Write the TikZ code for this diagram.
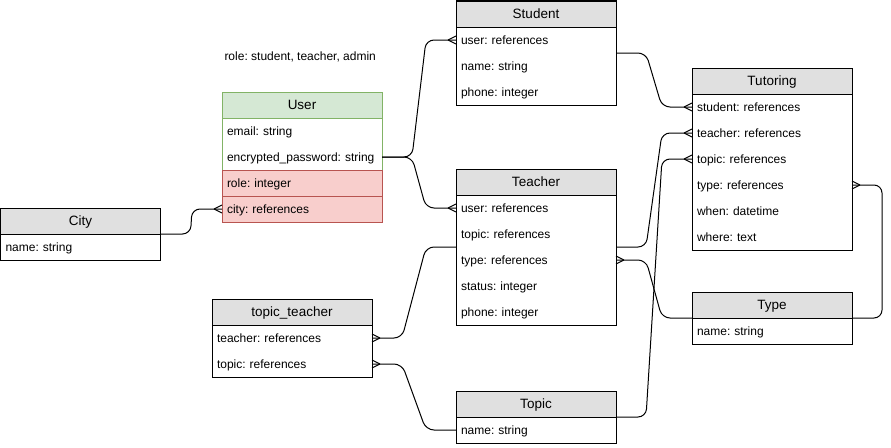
\documentclass[tikz,border=0pt]{standalone}
\usepackage{fontspec}
\setmainfont{Liberation Sans}
\usepackage{tikz}
\usetikzlibrary{positioning, calc, fit}
\frenchspacing
\definecolor{headgray}{HTML}{E0E0E0}
\definecolor{usergreen}{HTML}{D5E8D4}
\definecolor{userline}{HTML}{82B366}
\definecolor{keyred}{HTML}{F8CECC}
\definecolor{keyline}{HTML}{B85450}
\tikzstyle{head} = [draw, rectangle, fill=headgray, minimum width=160pt, minimum height=26pt, text height=10.5pt, text depth=1pt, outer sep=0pt, font=\fontsize{13.5}{16}\selectfont]
\tikzstyle{row} = [rectangle, text width=150pt, inner xsep=5pt, inner ysep=0pt, minimum height=26pt, text height=9.5pt, text depth=1pt, align=left, outer sep=0pt, font=\fontsize{12}{14}\selectfont]
\tikzstyle{body} = [draw, rectangle, inner sep=0pt, outer sep=0pt]
\tikzstyle{keyrow} = [row, draw=keyline, fill=keyred]
\tikzstyle{rel} = [draw, rounded corners=8pt]
\tikzstyle{note} = [inner sep=0pt, anchor=west, font=\fontsize{12}{14}\selectfont]
\tikzset{crow/.pic={\draw[sharp corners] (-8,0) -- (0,4) (-8,0) -- (0,-4);}}

\begin{document}
\begin{tikzpicture}[x=1pt, y=-1pt, line width=1pt]
    \useasboundingbox (0,0) rectangle (891,447);

    % User
    \node (roles) [note] at (224,57) {role: student, teacher, admin};
    \node (user-title) [head, fill=usergreen, draw=userline] at (302,105) {User};
    \node (user-email) [row, below=0pt of user-title] {email: string};
    \node (user-pw) [row, below=0pt of user-email] {encrypted\_password: string};
    \node (user) [body, draw=userline, fit=(user-title)(user-pw)] {};
    \node (user-role) [keyrow, below=0pt of user-pw] {role: integer};
    \node (user-city) [keyrow, below=0pt of user-role] {city: references};

    % City
    \node (city-title) [head] at (80.5,221) {City};
    \node (city-name) [row, below=0pt of city-title] {name: string};
    \node (city) [body, fit=(city-title)(city-name)] {};

    % Student
    \node (student-title) [head] at (536,14) {Student};
    \node (student-user) [row, below=0pt of student-title] {user: references};
    \node (student-name) [row, below=0pt of student-user] {name: string};
    \node (student-phone) [row, below=0pt of student-name] {phone: integer};
    \node (student) [body, fit=(student-title)(student-phone)] {};

    % Teacher
    \node (teacher-title) [head] at (536,182) {Teacher};
    \node (teacher-user) [row, below=0pt of teacher-title] {user: references};
    \node (teacher-topic) [row, below=0pt of teacher-user] {topic: references};
    \node (teacher-type) [row, below=0pt of teacher-topic] {type: references};
    \node (teacher-status) [row, below=0pt of teacher-type] {status: integer};
    \node (teacher-phone) [row, below=0pt of teacher-status] {phone: integer};
    \node (teacher) [body, fit=(teacher-title)(teacher-phone)] {};

    % Tutoring
    \node (tutoring-title) [head] at (772,81) {Tutoring};
    \node (tutoring-student) [row, below=0pt of tutoring-title] {student: references};
    \node (tutoring-teacher) [row, below=0pt of tutoring-student] {teacher: references};
    \node (tutoring-topic) [row, below=0pt of tutoring-teacher] {topic: references};
    \node (tutoring-type) [row, below=0pt of tutoring-topic] {type: references};
    \node (tutoring-when) [row, below=0pt of tutoring-type] {when: datetime};
    \node (tutoring-where) [row, below=0pt of tutoring-when] {where: text};
    \node (tutoring) [body, fit=(tutoring-title)(tutoring-where)] {};

    % Type
    \node (type-title) [head] at (772,305) {Type};
    \node (type-name) [row, below=0pt of type-title] {name: string};
    \node (type) [body, fit=(type-title)(type-name)] {};

    % topic_teacher
    \node (tt-title) [head] at (292,312) {topic\_teacher};
    \node (tt-teacher) [row, below=0pt of tt-title] {teacher: references};
    \node (tt-topic) [row, below=0pt of tt-teacher] {topic: references};
    \node (tt) [body, fit=(tt-title)(tt-topic)] {};

    % Topic
    \node (topic-title) [head] at (536,404) {Topic};
    \node (topic-name) [row, below=0pt of topic-title] {name: string};
    \node (topic) [body, fit=(topic-title)(topic-name)] {};

    % Relations
    \draw [rel] (user-pw.east) -- ++(30,0) -- ($(student-user.west)+(-30,0)$) -- (student-user.west) pic {crow};
    \draw [rel] (user-pw.east) -- ++(30,0) -- ($(teacher-user.west)+(-30,0)$) -- (teacher-user.west) pic {crow};
    \draw [rel] (city.east) -- ++(30,0) -- ($(user-city.west)+(-30,0)$) -- (user-city.west) pic {crow};
    \draw [rel] (student.east) -- ++(30,0) -- ($(tutoring-student.west)+(-30,0)$) -- (tutoring-student.west) pic {crow};
    \draw [rel] (teacher.east) -- ++(30,0) -- ($(tutoring-teacher.west)+(-30,0)$) -- (tutoring-teacher.west) pic {crow};
    \draw [rel] (topic.east) -- ++(30,0) -- ($(tutoring-topic.west)+(-30,0)$) -- (tutoring-topic.west) pic {crow};
    \draw [rel] (type.east) -- ++(30,0) -- ($(tutoring-type.east)+(30,0)$) -- (tutoring-type.east) pic[xscale=-1] {crow};
    \draw [rel] (type.west) -- ++(-30,0) -- ($(teacher-type.east)+(30,0)$) -- (teacher-type.east) pic[xscale=-1] {crow};
    \draw [rel] (teacher.west) -- ++(-30,0) -- ($(tt-teacher.east)+(30,0)$) -- (tt-teacher.east) pic[xscale=-1] {crow};
    \draw [rel] (topic-name.west) -- ++(-30,0) -- ($(tt-topic.east)+(30,0)$) -- (tt-topic.east) pic[xscale=-1] {crow};
\end{tikzpicture}
\end{document}
